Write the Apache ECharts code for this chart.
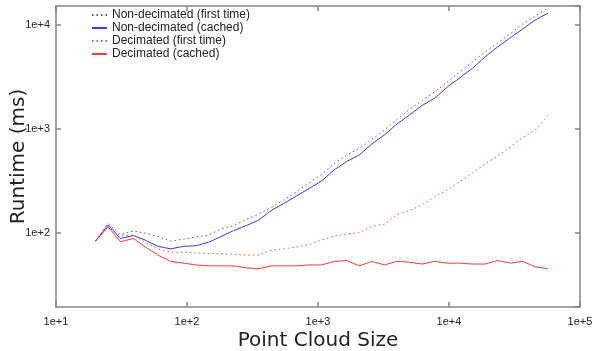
<!DOCTYPE html>
<html>
<head>
<meta charset="utf-8">
<script src="https://cdn.jsdelivr.net/npm/echarts@6/dist/echarts.min.js"></script>
<style>
  html, body { margin: 0; padding: 0; background: #fff; }
  #chart { width: 594px; height: 351px; }
</style>
</head>
<body>
<div id="chart"></div>
<script>
// point cloud sizes (x)
var sizes = [20, 25, 31, 39, 48, 60, 75, 94, 117, 146, 182, 227, 283, 352, 440, 548,
  684, 853, 1064, 1327, 1656, 2065, 2576, 3214, 4009, 5000, 6237, 7780, 9705, 12106,
  15101, 18836, 23496, 29309, 36559, 45604, 56885]

// runtimes in ms
var nonDecFirst = [83, 123, 96, 104, 99, 92, 83, 87, 91, 95, 109, 117, 134, 151, 175, 207,
  247, 301, 363, 463, 560, 647, 789, 975, 1231, 1542, 1875, 2265, 2825, 3524,
  4401, 5497, 6713, 8188, 10230, 12220, 14490]
var nonDecCached = [83, 119, 88, 94, 85, 74, 70, 74, 75, 81, 92, 105, 117, 132, 164, 191,
  226, 266, 315, 402, 485, 560, 714, 873, 1114, 1360, 1678, 1968, 2529, 3090,
  3814, 4918, 6140, 7494, 9150, 11160, 12970]
var decFirst = [83, 114, 93, 95, 81, 70, 65, 65, 64, 63, 63, 62, 61, 61, 68, 70,
  73, 77, 85, 93, 97, 100, 115, 121, 150, 164, 185, 222, 258, 310,
  376, 459, 548, 669, 826, 975, 1346]
var decCached = [83, 114, 82, 88, 73, 61, 53, 51, 49, 48, 48, 48, 46, 45, 48, 48,
  48, 49, 49, 53, 54, 48, 53, 49, 53, 52, 50, 53, 51, 51,
  50, 50, 54, 51, 53, 47, 45]

var seriesNames = ['Non-decimated (first time)', 'Non-decimated (cached)', 'Decimated (first time)', 'Decimated (cached)']

function pairs(ys) {
  return sizes.map(function (x, i) { return [x, ys[i]] })
}

function expLabel(value) {
  var e = Math.log10(value)
  if (Math.abs(e - Math.round(e)) > 1e-6) return ''
  return '1e+' + Math.round(e)
}

var axisColor = '#858585'
var labelFont = 'Liberation Sans'

function lineSeries(name, ys, color, dotted) {
  return {
    name: name,
    type: 'line',
    data: pairs(ys),
    showSymbol: false,
    symbol: 'none',
    lineStyle: {
      color: color,
      width: 1,
      type: dotted ? [1.5, 3] : 'solid'
    },
    itemStyle: { color: color }
  }
}

var chart = echarts.init(document.getElementById('chart'), null, { renderer: 'canvas' })
chart.setOption({
  animation: false,
  backgroundColor: '#fff',
  grid: { left: 56, right: 14, top: 6, bottom: 44, containLabel: false, outerBoundsMode: 'none' },
  legend: {
    orient: 'vertical',
    left: 91,
    top: 9,
    itemWidth: 15,
    itemHeight: 8,
    itemGap: 1,
    padding: 0,
    itemStyle: { opacity: 0 },
    textStyle: { fontFamily: labelFont, fontSize: 12, color: '#222' },
    data: seriesNames
  },
  xAxis: [{
    type: 'log',
    min: 10,
    max: 100000,
    name: 'Point Cloud Size',
    nameLocation: 'middle',
    nameGap: 24,
    nameMoveOverlap: false,
    nameTextStyle: { fontFamily: 'DejaVu Sans', fontSize: 20, color: '#222' },
    axisLine: { lineStyle: { color: axisColor, width: 1.5 } },
    axisTick: { inside: true, length: 5, lineStyle: { color: axisColor, width: 1.5 } },
    axisLabel: { formatter: expLabel, fontFamily: labelFont, fontSize: 11, color: '#222', margin: 9 },
    splitLine: { show: false },
    minorTick: { show: false }
  }, {
    type: 'log',
    min: 10,
    max: 100000,
    position: 'top',
    axisLine: { lineStyle: { color: axisColor, width: 1.5 } },
    axisTick: { inside: true, length: 5, lineStyle: { color: axisColor, width: 1.5 } },
    axisLabel: { show: false },
    splitLine: { show: false }
  }],
  yAxis: [{
    type: 'log',
    min: 19.3,
    max: 15200,
    name: 'Runtime (ms)',
    nameLocation: 'middle',
    nameGap: 27,
    nameMoveOverlap: false,
    nameTextStyle: { fontFamily: 'DejaVu Sans', fontSize: 20, color: '#222' },
    axisLine: { lineStyle: { color: axisColor, width: 1.5 } },
    axisTick: { inside: true, length: 5, lineStyle: { color: axisColor, width: 1.5 } },
    axisLabel: { formatter: expLabel, fontFamily: labelFont, fontSize: 11, color: '#222', margin: 6, showMinLabel: false, showMaxLabel: false },
    splitLine: { show: false }
  }, {
    type: 'log',
    min: 19.3,
    max: 15200,
    position: 'right',
    axisLine: { lineStyle: { color: axisColor, width: 1.5 } },
    axisTick: { inside: true, length: 5, lineStyle: { color: axisColor, width: 1.5 } },
    axisLabel: { show: false },
    splitLine: { show: false }
  }],
  series: [
    lineSeries(seriesNames[0], nonDecFirst, '#4a4aff', true),
    lineSeries(seriesNames[1], nonDecCached, '#3a3aff', false),
    lineSeries(seriesNames[2], decFirst, '#ff4a4a', true),
    lineSeries(seriesNames[3], decCached, '#ff3a3a', false)
  ]
})
</script>
</body>
</html>
